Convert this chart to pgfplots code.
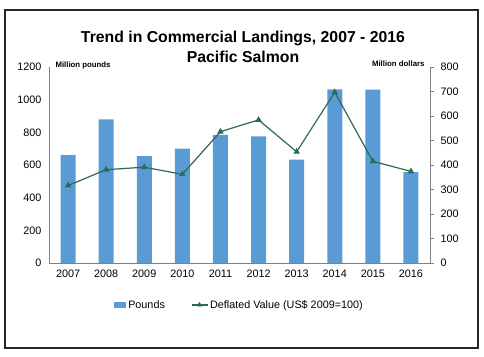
\documentclass[border=0pt]{standalone}
\usepackage{pgfplots}
\pgfplotsset{compat=1.18}
\usepackage{fontspec}
\setmainfont{Liberation Sans}
\definecolor{barblue}{HTML}{5B9BD5}
\definecolor{linegreen}{HTML}{2B6A55}
\definecolor{axgray}{HTML}{808080}
\begin{document}
\begin{tikzpicture}[x=1pt,y=1pt]
\useasboundingbox (0,0) rectangle (484,356);
\draw[line width=2pt, draw=black!85] (5,8) rectangle (478,346);
\node[font=\bfseries\fontsize{15.8}{19.5}\selectfont, align=center] at (243,309) {Trend in Commercial Landings, 2007 - 2016\\Pacific Salmon};
\begin{axis}[
  at={(49pt,93pt)}, anchor=south west,
  scale only axis, width=381pt, height=196pt,
  xmin=-0.5, xmax=9.5, ymin=0, ymax=1200,
  ytick={0,200,...,1200},
  xtick={0,...,9},
  xticklabels={2007,2008,2009,2010,2011,2012,2013,2014,2015,2016},
  extra x ticks={-0.5,0.5,...,9.5},
  extra x tick labels={},
  extra x tick style={major tick length=4pt, tick style={draw=axgray}},
  axis x line*=bottom, axis y line*=left,
  axis line style={draw=axgray, -},
  x tick style={draw=none}, y tick style={draw=none},
  tick label style={font=\fontsize{10.8}{12}\selectfont},
  xticklabel style={yshift=-3pt},
  yticklabel style={xshift=-4pt},
  /pgf/number format/assume math mode=true,
  /pgf/number format/1000 sep={},
  legend style={at={(0.5,-0.214)}, anchor=center, draw=none, legend columns=2,
    font=\fontsize{10.8}{12}\selectfont,
    /tikz/every even column/.append style={column sep=24pt}},
  clip=false,
]
\addplot[ybar, bar width=15pt, fill=barblue, draw=none,
  legend image code/.code={\fill[barblue] (0pt,-3pt) rectangle (12pt,3pt);}]
  coordinates {(0,660) (1,880) (2,655) (3,700) (4,784) (5,776) (6,633) (7,1063) (8,1061) (9,557)};
\addlegendentry{Pounds}
\addlegendimage{legend image code/.code={\draw[linegreen, line width=1.2pt] (0pt,0pt) -- (16pt,0pt); \fill[linegreen] (8pt,0pt) ++(90:2.6pt) -- ++(-120:4.5pt) -- ++(0:4.5pt) -- cycle;}}
\addlegendentry{Deflated Value (US\$ 2009=100)}
\node[font=\bfseries\fontsize{7.8}{9}\selectfont, anchor=west] at (axis cs:-0.5,1200) [xshift=3pt, yshift=2pt] {Million pounds};
\end{axis}
\begin{axis}[
  at={(49pt,93pt)}, anchor=south west,
  scale only axis, width=381pt, height=196pt,
  xmin=-0.5, xmax=9.5, ymin=0, ymax=800,
  ytick={0,100,...,800},
  axis y line*=right, axis x line=none,
  axis line style={draw=axgray, -},
  y tick style={draw=axgray}, major tick length=4pt,
  yticklabel style={xshift=3pt},
  tick align=outside,
  tick label style={font=\fontsize{10.8}{12}\selectfont},
  /pgf/number format/assume math mode=true,
  clip=false,
]
\addplot[linegreen, line width=1.2pt, mark=triangle*, mark size=2.6pt, mark options={fill=linegreen}]
  coordinates {(0,316) (1,381) (2,391) (3,362) (4,536) (5,584) (6,454) (7,697) (8,415) (9,374)};
\node[font=\bfseries\fontsize{7.8}{9}\selectfont, anchor=east] at (axis cs:9.5,800) [xshift=-2pt, yshift=3pt] {Million dollars};
\end{axis}
\end{tikzpicture}
\end{document}
